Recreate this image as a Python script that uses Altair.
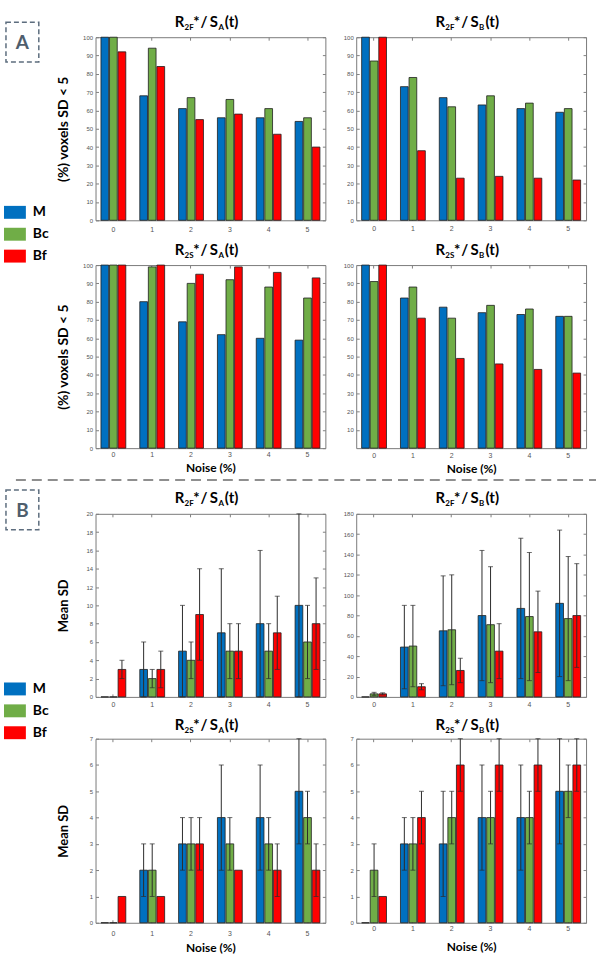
import altair as alt
import pandas as pd

# ---------------- data ----------------
noise = ["0", "1", "2", "3", "4", "5"]
series = ["M", "Bc", "Bf"]
palette = ["#0070C0", "#70AD47", "#FF0000"]

# (A) percentage of voxels with SD < 5
a_r2f_sa_m = [100, 68, 61, 56, 56, 54]
a_r2f_sa_bc = [100, 94, 67, 66, 61, 56]
a_r2f_sa_bf = [92, 84, 55, 58, 47, 40]

a_r2f_sb_m = [100, 73, 67, 63, 61, 59]
a_r2f_sb_bc = [87, 78, 62, 68, 64, 61]
a_r2f_sb_bf = [100, 38, 23, 24, 23, 22]

a_r2s_sa_m = [100, 80, 69, 62, 60, 59]
a_r2s_sa_bc = [100, 99, 90, 92, 88, 82]
a_r2s_sa_bf = [100, 100, 95, 99, 96, 93]

a_r2s_sb_m = [100, 82, 77, 74, 73, 72]
a_r2s_sb_bc = [91, 88, 71, 78, 76, 72]
a_r2s_sb_bf = [100, 71, 49, 46, 43, 41]

# (B) mean SD with its spread (half-length of the error bar)
b_r2f_sa_m = [0, 3, 5, 7, 8, 10]
b_r2f_sa_m_err = [0, 3, 5, 7, 8, 10]
b_r2f_sa_bc = [0, 2, 4, 5, 5, 6]
b_r2f_sa_bc_err = [0, 1, 2, 3, 3, 4]
b_r2f_sa_bf = [3, 3, 9, 5, 7, 8]
b_r2f_sa_bf_err = [1, 2, 5, 3, 4, 5]

b_r2f_sb_m = [0, 49, 65, 80, 87, 92]
b_r2f_sb_m_err = [0, 41, 54, 64, 69, 72]
b_r2f_sb_bc = [3, 50, 66, 71, 79, 77]
b_r2f_sb_bc_err = [1.5, 40, 54, 57, 63, 61]
b_r2f_sb_bf = [3, 10, 26, 45, 64, 80]
b_r2f_sb_bf_err = [1, 3, 12, 27, 40, 51]

b_r2s_sa_m = [0, 2, 3, 4, 4, 5]
b_r2s_sa_m_err = [0, 1, 1, 2, 2, 2]
b_r2s_sa_bc = [0, 2, 3, 3, 3, 4]
b_r2s_sa_bc_err = [0, 1, 1, 1, 1, 1]
b_r2s_sa_bf = [1, 1, 3, 2, 2, 2]
b_r2s_sa_bf_err = [0, 0, 1, 0, 1, 1]

b_r2s_sb_m = [0, 3, 3, 4, 4, 5]
b_r2s_sb_m_err = [0, 1, 2, 2, 2, 2]
b_r2s_sb_bc = [2, 3, 4, 4, 4, 5]
b_r2s_sb_bc_err = [1, 1, 1, 1, 1, 1]
b_r2s_sb_bf = [1, 4, 6, 6, 6, 6]
b_r2s_sb_bf_err = [0, 1, 1, 1, 1, 1]

# ---------------- styling ----------------
TITLE_FONT = "Lato"
TICK_FONT = "Liberation Sans"
MAIN, SUB = 15, 8
W, H = 231, 184
INK = "#2b2b2b"
TICK = "#808080"

one = pd.DataFrame({"k": [0]})


def label(text, x, y, size, align="left", baseline="alphabetic", color="black"):
    return alt.Chart(one).mark_text(
        text=text, align=align, baseline=baseline, font=TITLE_FONT,
        fontSize=size, fontWeight="bold", color=color,
    ).encode(x=alt.value(x), y=alt.value(y))


def panel_title(sub1, sub2, y0):
    # "R<sub1>* / S<sub2>(t)" built glyph group by glyph group
    start = W / 2 - 3 - 33
    pieces = [
        ("R", MAIN, 5, "center", 0),
        (sub1, SUB, 10, "left", 3),
        ("*", MAIN, 22, "center", 0),
        ("/", MAIN, 29.5, "center", 0),
        ("S", MAIN, 39.5, "center", 0),
        (sub2, SUB, 44, "left", 3),
        ("(t)", MAIN, 50.5, "left", 0),
    ]
    return [label(t, start + dx, y0 + dy, size, align=al)
            for t, size, dx, al, dy in pieces]


def table(m, bc, bf, em=None, ebc=None, ebf=None):
    rows = []
    for i, n in enumerate(noise):
        for s, v, e in zip(series, (m, bc, bf), (em, ebc, ebf)):
            rows.append({"noise": n, "series": s, "value": v[i],
                         "err": e[i] if e is not None else 0})
    return pd.DataFrame(rows)


legend = alt.Legend(
    orient="none", legendX=-92, legendY=165, title=None,
    symbolType="M-1,-0.59H1V0.59H-1Z", symbolSize=484, symbolStrokeWidth=0,
    symbolOpacity=1, labelFont=TITLE_FONT, labelFontSize=14,
    labelFontWeight="bold", labelColor="black", labelOffset=7,
    rowPadding=4, padding=0,
)


def panel(df, sub1, sub2, ymax, yticks, height=H, ytitle=None, xtitle=None,
          label_pad=3, xtitle_y=27, title_y=-10, errors=False, extras=(),
          show_legend=False):
    xaxis_kw = dict(
        title=xtitle, labelAngle=0, labelFont=TICK_FONT, labelFontSize=7,
        labelColor="#555555", labelPadding=label_pad, ticks=True, tickSize=3,
        tickColor=TICK, offset=-3, domain=False, grid=False,
    )
    if xtitle:
        xaxis_kw.update(titleFont=TITLE_FONT, titleFontSize=12,
                        titleFontWeight="bold", titleColor="black",
                        titleBaseline="alphabetic", titleY=xtitle_y)
    yaxis_kw = dict(
        title=ytitle, values=yticks, labelFont=TICK_FONT, labelFontSize=6,
        labelColor="#555555", labelPadding=3, ticks=True, tickSize=3,
        tickColor=TICK, offset=-3, domain=False, grid=False,
    )
    if ytitle:
        yaxis_kw.update(titleFont=TITLE_FONT, titleFontSize=14 if "%" in ytitle else 13,
                        titleFontWeight="bold", titleColor="black", titleX=-28)

    xscale = alt.Scale(paddingInner=0.36, paddingOuter=0.14)
    xoff = alt.XOffset("series:N", sort=series,
                       scale=alt.Scale(paddingInner=0.1, paddingOuter=0))
    yscale = alt.Scale(domain=[0, ymax], nice=False, zero=True)

    bars = alt.Chart(df).mark_bar(stroke="#1e1e1e", strokeWidth=0.8).encode(
        x=alt.X("noise:N", sort=noise, scale=xscale, axis=alt.Axis(**xaxis_kw)),
        xOffset=xoff,
        y=alt.Y("value:Q", scale=yscale, axis=alt.Axis(**yaxis_kw)),
        color=alt.Color("series:N", sort=series,
                        scale=alt.Scale(domain=series, range=palette),
                        legend=legend if show_legend else None),
    )
    # inward tick marks along the top and right edges of the box
    box_ticks = alt.Chart(df).mark_point(opacity=0).encode(
        x=alt.X("noise:N", sort=noise, scale=xscale,
                axis=alt.Axis(orient="top", labels=False, title=None, ticks=True,
                              tickSize=3, tickColor=TICK, offset=-3,
                              domain=False, grid=False)),
        y=alt.Y("value:Q", scale=yscale,
                axis=alt.Axis(orient="right", values=yticks, labels=False,
                              title=None, ticks=True, tickSize=3,
                              tickColor=TICK, offset=-3, domain=False,
                              grid=False)),
    )
    layers = [bars, box_ticks]
    if errors:
        xplain = alt.X("noise:N", sort=noise, scale=xscale, axis=None)
        eb = alt.Chart(df).transform_filter("datum.err > 0").transform_calculate(
            lo="datum.value - datum.err", hi="datum.value + datum.err")
        layers.append(eb.mark_rule(color=INK, strokeWidth=1).encode(
            x=xplain, xOffset=xoff,
            y=alt.Y("lo:Q", scale=yscale, axis=None), y2="hi:Q"))
        for end in ("lo", "hi"):
            layers.append(eb.mark_tick(color=INK, thickness=1, size=5).encode(
                x=xplain, xOffset=xoff,
                y=alt.Y(f"{end}:Q", scale=yscale, axis=None)))
    layers += panel_title(sub1, sub2, title_y)
    layers += list(extras)
    return (
        alt.layer(*layers)
        .resolve_axis(x="independent", y="independent")
        .properties(width=W, height=height)
    )


def tag_box(letter, y_top):
    box = alt.Chart(one).mark_rect(
        fillOpacity=0, stroke="#5d6d7e", strokeWidth=1.5, strokeDash=[5, 3]
    ).encode(x=alt.value(-90), x2=alt.value(-57),
             y=alt.value(y_top), y2=alt.value(y_top + 40))
    return [box, label(letter, -73.5, y_top + 21, 19, align="center",
                       baseline="middle", color="#4f5e6d")]


def gap(h):
    # empty row filler that sets the vertical distance between panel rows
    return alt.Chart(one).mark_text(text="").encode(
        x=alt.value(0), y=alt.value(0)
    ).properties(width=W, height=h, view=alt.ViewBackground(strokeOpacity=0))


separator = alt.Chart(one).mark_rule(
    color="#6b6b6b", strokeWidth=1.5, strokeDash=[10, 6]
).encode(x=alt.value(-80), x2=alt.value(503), y=alt.value(-34))

pct_ticks = list(range(0, 101, 10))
pct_title = "(%) voxels SD < 5"

a1 = panel(table(a_r2f_sa_m, a_r2f_sa_bc, a_r2f_sa_bf), "2F", "A", 100, pct_ticks,
           ytitle=pct_title, label_pad=5, extras=tag_box("A", -15),
           show_legend=True)
a2 = panel(table(a_r2f_sb_m, a_r2f_sb_bc, a_r2f_sb_bf), "2F", "B", 100, pct_ticks,
           label_pad=4)
a3 = panel(table(a_r2s_sa_m, a_r2s_sa_bc, a_r2s_sa_bf), "2S", "A", 100, pct_ticks,
           ytitle=pct_title, xtitle="Noise (%)", label_pad=2.5, xtitle_y=26.5)
a4 = panel(table(a_r2s_sb_m, a_r2s_sb_bc, a_r2s_sb_bf), "2S", "B", 100, pct_ticks[1:],
           xtitle="Noise (%)", label_pad=3, xtitle_y=27)

b1 = panel(table(b_r2f_sa_m, b_r2f_sa_bc, b_r2f_sa_bf,
                 b_r2f_sa_m_err, b_r2f_sa_bc_err, b_r2f_sa_bf_err),
           "2F", "A", 20, list(range(0, 21, 2)), ytitle="Mean SD",
           label_pad=3.5, title_y=-11, errors=True,
           extras=tag_box("B", -24) + [separator], show_legend=True)
b2 = panel(table(b_r2f_sb_m, b_r2f_sb_bc, b_r2f_sb_bf,
                 b_r2f_sb_m_err, b_r2f_sb_bc_err, b_r2f_sb_bf_err),
           "2F", "B", 180, list(range(0, 181, 20)), label_pad=3.7,
           title_y=-11, errors=True)
b3 = panel(table(b_r2s_sa_m, b_r2s_sa_bc, b_r2s_sa_bf,
                 b_r2s_sa_m_err, b_r2s_sa_bc_err, b_r2s_sa_bf_err),
           "2S", "A", 7, list(range(0, 8)), height=185, ytitle="Mean SD",
           xtitle="Noise (%)", label_pad=6.5, xtitle_y=32.3, title_y=-9,
           errors=True)
b4 = panel(table(b_r2s_sb_m, b_r2s_sb_bc, b_r2s_sb_bf,
                 b_r2s_sb_m_err, b_r2s_sb_bc_err, b_r2s_sb_bf_err),
           "2S", "B", 7, list(range(0, 8)), height=185,
           xtitle="Noise (%)", label_pad=1.5, xtitle_y=31, title_y=-9,
           errors=True)

chart = (
    alt.concat(
        a1, a2, gap(4), gap(4),
        a3, a4, gap(25), gap(25),
        b1, b2, gap(1), gap(1),
        b3, b4,
        columns=2, spacing={"row": 20.5, "column": 31}, bounds="flush",
    )
    .resolve_scale(color="independent", xOffset="independent")
    .properties(padding={"left": 3, "top": 12, "right": 0, "bottom": 0})
    .configure_view(stroke="#7a7a7a", strokeWidth=1)
)

chart.save("out.html", embed_options={"renderer": "svg", "actions": False})
